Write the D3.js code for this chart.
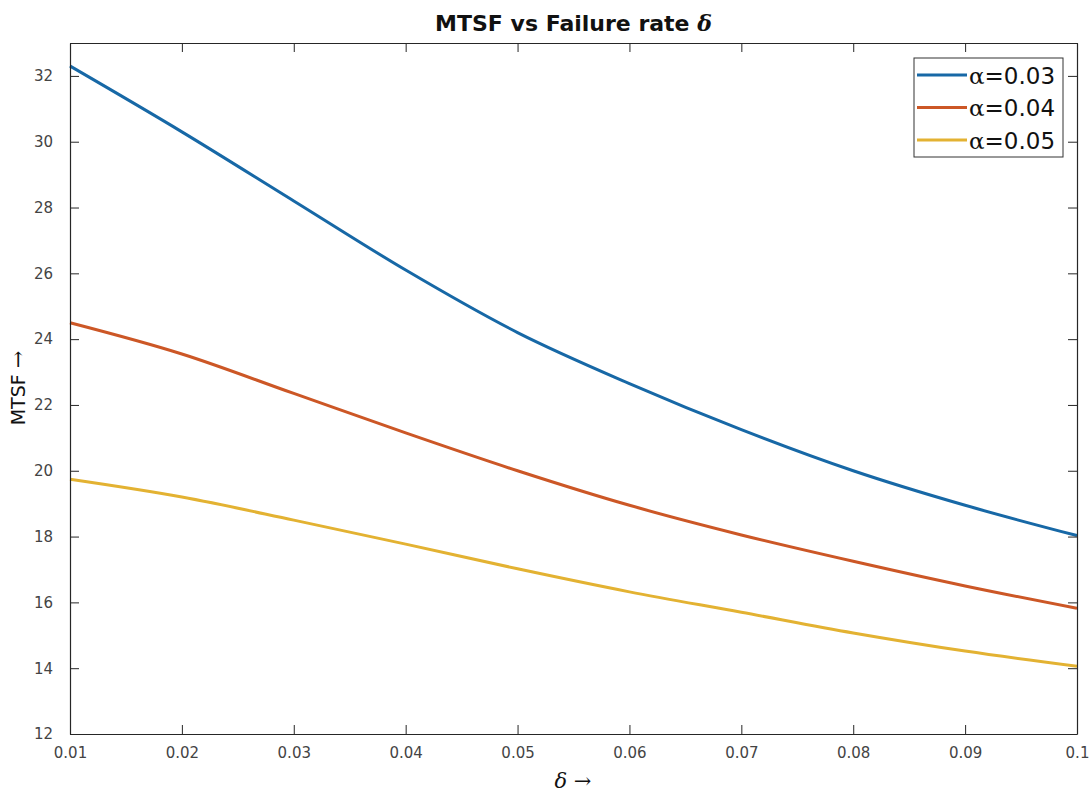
<!DOCTYPE html>
<html>
<head>
<meta charset="utf-8">
<script src="https://cdn.jsdelivr.net/npm/d3@7"></script>
<style>
  body { margin: 0; background: #fff; }
  text { font-family: "DejaVu Sans", sans-serif; }
</style>
</head>
<body>
<div id="main"></div>
<script>
const width = 1091;
const height = 798;
const margin = { left: 70, right: 14, top: 43, bottom: 64 };

// failure rate delta
const delta = [0.01, 0.02, 0.03, 0.04, 0.05, 0.06, 0.07, 0.08, 0.09, 0.1];
const mtsfA03 = [32.3, 30.3, 28.2, 26.1, 24.2, 22.65, 21.25, 20.0, 18.95, 18.03];
const mtsfA04 = [24.5, 23.55, 22.35, 21.15, 20.0, 18.95, 18.05, 17.25, 16.5, 15.82];
const mtsfA05 = [19.74, 19.2, 18.5, 17.77, 17.02, 16.32, 15.7, 15.07, 14.52, 14.06];
const seriesNames = ["0.03", "0.04", "0.05"];
const seriesColors = ["#1768a6", "#cc5726", "#e3b232"];
const xTicks = [0.01, 0.02, 0.03, 0.04, 0.05, 0.06, 0.07, 0.08, 0.09, 0.1];
const yTicks = [12, 14, 16, 18, 20, 22, 24, 26, 28, 30, 32];

const series = [mtsfA03, mtsfA04, mtsfA05].map((vals, i) => ({
  name: seriesNames[i],
  color: seriesColors[i],
  points: vals.map((v, j) => [delta[j], v]),
}));

const svg = d3
  .select("#main")
  .append("svg")
  .attr("width", width)
  .attr("height", height);

const x = d3
  .scaleLinear()
  .domain([0.01, 0.1])
  .range([margin.left, width - margin.right]);
const y = d3
  .scaleLinear()
  .domain([12, 33])
  .range([height - margin.bottom, margin.top]);

const axisColor = "#262626";
const tickLen = 9;

// curves
const line = d3
  .line()
  .x((d) => x(d[0]))
  .y((d) => y(d[1]))
  .curve(d3.curveMonotoneX);

svg
  .append("g")
  .selectAll("path")
  .data(series)
  .enter()
  .append("path")
  .attr("d", (d) => line(d.points))
  .attr("fill", "none")
  .attr("stroke", (d) => d.color)
  .attr("stroke-width", 3);

// axes (ticks inside, box all round)
const fmt = (d) => (d === 0.1 ? "0.1" : d3.format(".2f")(d));

const xBottom = svg
  .append("g")
  .attr("transform", `translate(0,${y(12)})`)
  .call(d3.axisBottom(x).tickValues(xTicks).tickFormat(fmt).tickSizeInner(-tickLen).tickSizeOuter(0).tickPadding(14));
const xTop = svg
  .append("g")
  .attr("transform", `translate(0,${y(33)})`)
  .call(d3.axisTop(x).tickValues(xTicks).tickFormat("").tickSizeInner(-tickLen).tickSizeOuter(0));
const yLeft = svg
  .append("g")
  .attr("transform", `translate(${x(0.01)},0)`)
  .call(d3.axisLeft(y).tickValues(yTicks).tickSizeInner(-tickLen).tickSizeOuter(0).tickPadding(17));
const yRight = svg
  .append("g")
  .attr("transform", `translate(${x(0.1)},0)`)
  .call(d3.axisRight(y).tickValues(yTicks).tickFormat("").tickSizeInner(-tickLen).tickSizeOuter(0));

[xBottom, xTop, yLeft, yRight].forEach((g) => {
  g.selectAll("path.domain").attr("stroke", axisColor).attr("stroke-width", 1.2);
  g.selectAll(".tick line").attr("stroke", axisColor);
  g.selectAll(".tick text")
    .attr("fill", "#444")
    .style("font-family", "DejaVu Sans, sans-serif")
    .style("font-size", "15px");
});
xBottom.selectAll(".tick text").attr("dy", "0.68em");

// title
svg
  .append("text")
  .attr("x", (x(0.01) + x(0.1)) / 2)
  .attr("y", 31)
  .attr("text-anchor", "middle")
  .style("font-size", "22px")
  .style("font-weight", "bold")
  .attr("fill", "#111")
  .text("MTSF vs Failure rate ")
  .append("tspan")
  .style("font-family", "DejaVu Serif, serif")
  .style("font-style", "italic")
  .text("δ");

// y label
svg
  .append("text")
  .attr("transform", `translate(25,388) rotate(-90)`)
  .attr("text-anchor", "middle")
  .style("font-size", "19px")
  .attr("fill", "#111")
  .call((t) => {
    t.append("tspan").text("MTSF ");
    t.append("tspan").style("font-family", "DejaVu Serif, serif").style("font-size", "21px").text("→");
  });

// x label
svg
  .append("text")
  .attr("x", 573)
  .attr("y", 788)
  .attr("text-anchor", "middle")
  .style("font-size", "21px")
  .style("font-family", "DejaVu Serif, serif")
  .attr("fill", "#111")
  .call((t) => {
    t.append("tspan").style("font-style", "italic").text("δ");
    t.append("tspan").text(" →");
  });

// legend
const legend = svg.append("g").attr("transform", "translate(914,58)");
legend
  .append("rect")
  .attr("width", 149)
  .attr("height", 99)
  .attr("fill", "#fff")
  .attr("stroke", "#333")
  .attr("stroke-width", 1);

const items = legend
  .selectAll("g.item")
  .data(series)
  .enter()
  .append("g")
  .attr("class", "item")
  .attr("transform", (d, i) => `translate(0,${17 + i * 32.5})`);

items
  .append("line")
  .attr("x1", 3)
  .attr("x2", 53)
  .attr("stroke", (d) => d.color)
  .attr("stroke-width", 3);

items
  .append("text")
  .attr("x", 55)
  .attr("dy", "0.38em")
  .style("font-size", "23px")
  .attr("fill", "#111")
  .call((t) => {
    t.append("tspan").style("font-family", "DejaVu Serif, serif").text("α");
    t.append("tspan").text((d) => "=" + d.name);
  });
</script>
</body>
</html>
